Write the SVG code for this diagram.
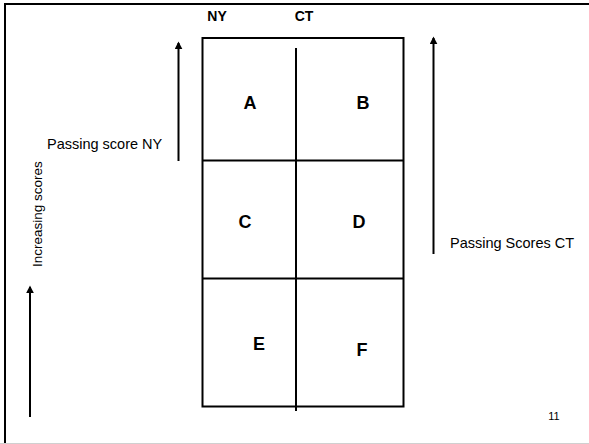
<svg xmlns="http://www.w3.org/2000/svg" width="589" height="444" viewBox="0 0 589 444">
<defs>
<style>
text{font-family:"Liberation Sans",Arial,sans-serif;fill:#000}
.lbl{font-size:14.5px}
.vlbl{font-size:13.5px}
.hdr{font-size:14px;font-weight:bold;text-anchor:middle}
.cell{font-size:18px;font-weight:bold;text-anchor:middle}
.ln{stroke:#000;stroke-width:2;fill:none}
.arr{stroke:#000;stroke-width:2;fill:none;marker-end:url(#ah)}
</style>
<marker id="ah" viewBox="0 0 10 10" refX="8" refY="5" markerWidth="4" markerHeight="4" orient="auto" markerUnits="strokeWidth">
<path d="M0,0 L10,5 L0,10 z" fill="#000"/>
</marker>
</defs>
<rect width="589" height="444" fill="#fff"/>
<g id="frame">
<path class="ln" d="M5,444 V4 H589" stroke-width="2.5"/>
<line x1="0" y1="443.5" x2="589" y2="443.5" stroke="#d0d0d0" stroke-width="1"/>
</g>
<g id="grid">
<rect class="ln" x="202.5" y="38" width="201" height="368.5"/>
<line class="ln" x1="202.5" y1="160.5" x2="403.5" y2="160.5"/>
<line class="ln" x1="202.5" y1="278.5" x2="403.5" y2="278.5"/>
<line class="ln" x1="296" y1="48" x2="296" y2="411"/>
</g>
<g id="headers">
<text class="hdr" x="217" y="21">NY</text>
<text class="hdr" x="304" y="21">CT</text>
</g>
<g id="cellA"><text class="cell" x="250" y="109">A</text></g>
<g id="cellB"><text class="cell" x="363" y="109">B</text></g>
<g id="cellC"><text class="cell" x="245" y="228">C</text></g>
<g id="cellD"><text class="cell" x="359" y="228">D</text></g>
<g id="cellE"><text class="cell" x="259" y="350">E</text></g>
<g id="cellF"><text class="cell" x="362" y="356">F</text></g>
<g id="connectors">
<line class="arr" x1="178.5" y1="161" x2="178.5" y2="43"/>
<line class="arr" x1="433.5" y1="254" x2="433.5" y2="38"/>
<line class="arr" x1="30" y1="417" x2="30" y2="287"/>
</g>
<g id="labels">
<text class="lbl" x="47" y="149">Passing score NY</text>
<text class="lbl" x="450" y="248">Passing Scores CT</text>
<text class="vlbl" transform="translate(42,267) rotate(-90)">Increasing scores</text>
<text x="554" y="420" font-size="11" text-anchor="middle">11</text>
</g>
</svg>
